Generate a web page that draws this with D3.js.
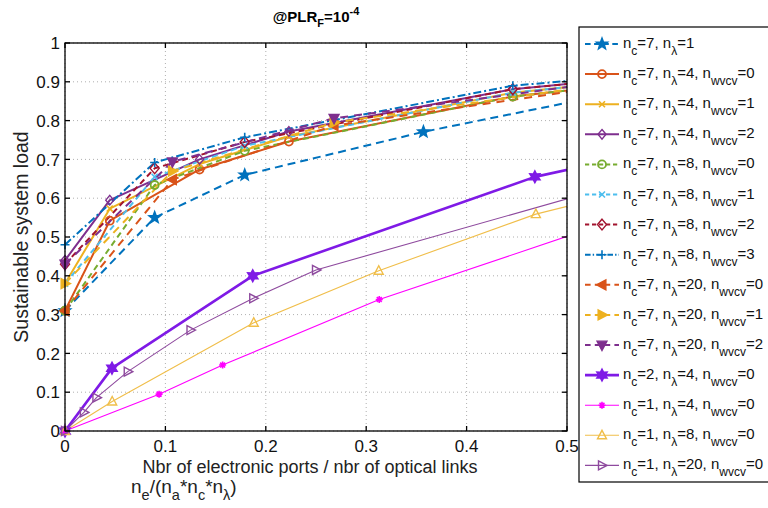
<!DOCTYPE html>
<html><head><meta charset="utf-8">
<script src="https://cdn.jsdelivr.net/npm/d3@7"></script>
<style>body{margin:0;background:#fff}svg{display:block;font-family:"Liberation Sans",Arial,Helvetica,sans-serif}</style>
</head><body><svg id="c" width="768" height="508"></svg>
<script>
// ---- data ----
const titleText = "@PLR_F=10^-4";
const yLabel = "Sustainable system load";
const xLabel1 = "Nbr of electronic ports / nbr of optical links";
const xLabel2 = "n_e/(n_a*n_c*n_λ)";
const xTicks = [0, 0.1, 0.2, 0.3, 0.4, 0.5];
const yTicks = [0, 0.1, 0.2, 0.3, 0.4, 0.5, 0.6, 0.7, 0.8, 0.9, 1];

const legendLabels = [
  "n_c=7, n_λ=1",
  "n_c=7, n_λ=4, n_wvcv=0",
  "n_c=7, n_λ=4, n_wvcv=1",
  "n_c=7, n_λ=4, n_wvcv=2",
  "n_c=7, n_λ=8, n_wvcv=0",
  "n_c=7, n_λ=8, n_wvcv=1",
  "n_c=7, n_λ=8, n_wvcv=2",
  "n_c=7, n_λ=8, n_wvcv=3",
  "n_c=7, n_λ=20, n_wvcv=0",
  "n_c=7, n_λ=20, n_wvcv=1",
  "n_c=7, n_λ=20, n_wvcv=2",
  "n_c=2, n_λ=4, n_wvcv=0",
  "n_c=1, n_λ=4, n_wvcv=0",
  "n_c=1, n_λ=8, n_wvcv=0",
  "n_c=1, n_λ=20, n_wvcv=0"
];

const x_l1 = [0, 0.0893, 0.179, 0.357, 0.714];
const y_l1 = [0.31, 0.55, 0.66, 0.771, 0.958];

const x_l4 = [0, 0.0446, 0.134, 0.223, 0.446, 0.892];
const y_l4w0 = [0.31, 0.542, 0.674, 0.746, 0.862, 0.99];
const y_l4w1 = [0.38, 0.573, 0.688, 0.759, 0.872, 0.99];
const y_l4w2 = [0.44, 0.595, 0.700, 0.772, 0.881, 0.99];

const x_l8 = [0, 0.0893, 0.179, 0.446, 0.893];
const y_l8w0 = [0.31, 0.634, 0.722, 0.862, 0.99];
const y_l8w1 = [0.38, 0.655, 0.735, 0.872, 0.99];
const y_l8w2 = [0.43, 0.677, 0.745, 0.881, 0.99];
const y_l8w3 = [0.48, 0.692, 0.757, 0.890, 0.99];

const x_l20 = [0, 0.107, 0.268, 0.536];
const y_l20w0 = [0.31, 0.648, 0.787, 0.887];
const y_l20w1 = [0.38, 0.670, 0.795, 0.893];
const y_l20w2 = [0.43, 0.694, 0.806, 0.899];

const x_c2 = [0, 0.0468, 0.187, 0.468, 0.936];
const y_c2 = [0, 0.162, 0.40, 0.655, 0.917];

const x_c1l4 = [0, 0.0937, 0.157, 0.313, 0.626];
const y_c1l4 = [0, 0.095, 0.17, 0.339, 0.611];

const x_c1l8 = [0, 0.047, 0.188, 0.3125, 0.469, 0.625];
const y_c1l8 = [0, 0.076, 0.279, 0.413, 0.559, 0.66];

const x_c1l20 = [0, 0.0188, 0.0313, 0.0625, 0.125, 0.1875, 0.25, 0.625];
const y_c1l20 = [0, 0.048, 0.086, 0.153, 0.26, 0.342, 0.415, 0.69];

// series styling (index aligned with legend)
const seriesData = [
  [x_l1, y_l1], [x_l4, y_l4w0], [x_l4, y_l4w1], [x_l4, y_l4w2],
  [x_l8, y_l8w0], [x_l8, y_l8w1], [x_l8, y_l8w2], [x_l8, y_l8w3],
  [x_l20, y_l20w0], [x_l20, y_l20w1], [x_l20, y_l20w2],
  [x_c2, y_c2], [x_c1l4, y_c1l4], [x_c1l8, y_c1l8], [x_c1l20, y_c1l20]
];
const colors = ["#0072BD","#D95319","#EDB120","#7E2F8E","#77AC30","#4DBEEE","#A2142F","#0072BD",
                "#D95319","#EDB120","#7E2F8E","#7F1AE6","#FF00FF","#F0BE4A","#8E4A9E"];
const dashes = ["8,5",null,null,null,"6,4","6,4","6,4","8,3,2,3","8,6","8,6","8,6",null,null,null,null];
const widths = [2,2,2,2,2,2,2,2,2,2,2,2.6,1.1,1.1,1.1];
const markers = ["p","o","x","d","o","x","d","+","<",">","v","h","*","^",">"];
const filled = [true,false,false,false,false,false,false,false,true,true,true,true,false,false,false];
const msize = [6,4,3,4,4,3,4.5,4.5,5.5,5.5,5.5,6,3.5,5,5];

// ---- layout ----
const W = 768, H = 508;
const L = 65, R = 567, T = 43, B = 431;
const svg = d3.select("#c");
const x = d3.scaleLinear().domain([0, 0.5]).range([L, R]);
const y = d3.scaleLinear().domain([0, 1]).range([B, T]);

function rich(sel, str, size, subSize, subShift) {
  const segs = []; let i = 0, cur = "";
  const stop = "=/*), ";
  while (i < str.length) {
    const c = str[i];
    if (c === "_" || c === "^") {
      if (cur) segs.push({t: cur, m: "n"}); cur = "";
      const m = c === "_" ? "sub" : "sup"; i++;
      let s = "";
      while (i < str.length && !stop.includes(str[i])) { s += str[i]; i++; }
      segs.push({t: s, m}); continue;
    }
    cur += c; i++;
  }
  if (cur) segs.push({t: cur, m: "n"});
  let shift = 0;
  segs.forEach(s => {
    const target = s.m === "sub" ? subShift : s.m === "sup" ? -size * 0.45 : 0;
    sel.append("tspan").attr("dy", target - shift)
      .attr("font-size", s.m === "n" ? size : subSize).text(s.t);
    shift = target;
  });
}

function markerPath(type, r) {
  const p = d3.path();
  const poly = pts => { pts.forEach((q, k) => k ? p.lineTo(q[0], q[1]) : p.moveTo(q[0], q[1])); p.closePath(); };
  switch (type) {
    case "o": return null;
    case "x": p.moveTo(-r,-r); p.lineTo(r,r); p.moveTo(-r,r); p.lineTo(r,-r); break;
    case "+": p.moveTo(-r,0); p.lineTo(r,0); p.moveTo(0,-r); p.lineTo(0,r); break;
    case "*": p.moveTo(-r,0); p.lineTo(r,0); p.moveTo(0,-r); p.lineTo(0,r);
      const a = r*0.7; p.moveTo(-a,-a); p.lineTo(a,a); p.moveTo(-a,a); p.lineTo(a,-a); break;
    case "d": poly([[0,-r*1.2],[r,0],[0,r*1.2],[-r,0]]); break;
    case "^": poly([[0,-r],[r*0.9,r*0.7],[-r*0.9,r*0.7]]); break;
    case "v": poly([[0,r],[r*0.9,-r*0.7],[-r*0.9,-r*0.7]]); break;
    case "<": poly([[-r,0],[r*0.7,-r*0.9],[r*0.7,r*0.9]]); break;
    case ">": poly([[r,0],[-r*0.7,-r*0.9],[-r*0.7,r*0.9]]); break;
    case "p": case "h": {
      const n = type === "p" ? 5 : 6, ri = type === "p" ? r*0.42 : r*0.55, pts = [];
      for (let k = 0; k < 2*n; k++) {
        const ang = -Math.PI/2 + k*Math.PI/n, rr = k % 2 ? ri : r;
        pts.push([rr*Math.cos(ang), rr*Math.sin(ang)]);
      }
      poly(pts); break;
    }
  }
  return p.toString();
}

function drawMarker(g, type, r, color, fill, cx, cy) {
  if (type === "o") {
    g.append("circle").attr("cx", cx).attr("cy", cy).attr("r", r)
      .attr("fill", "none").attr("stroke", color).attr("stroke-width", 1.8);
  } else {
    g.append("path").attr("d", markerPath(type, r)).attr("transform", `translate(${cx},${cy})`)
      .attr("fill", fill ? color : "none").attr("stroke", color)
      .attr("stroke-width", type === "x" || type === "+" || type === "*" ? 1.6 : 1.4)
      .attr("stroke-linejoin", "miter");
  }
}

// grid
const grid = svg.append("g").attr("stroke", "#9a9a9a").attr("stroke-width", 0.8).attr("stroke-dasharray", "1,3");
xTicks.forEach(t => grid.append("line").attr("x1", x(t)).attr("x2", x(t)).attr("y1", T).attr("y2", B));
yTicks.forEach(t => grid.append("line").attr("x1", L).attr("x2", R).attr("y1", y(t)).attr("y2", y(t)));

// clip
svg.append("clipPath").attr("id", "clip").append("rect").attr("x", L - 20).attr("y", T).attr("width", R - L + 20).attr("height", B - T + 20);

// lines
const lineGen = d3.line().x(d => x(d[0])).y(d => y(d[1]));
const lg = svg.append("g").attr("clip-path", "url(#clip)");
seriesData.forEach((sd, i) => {
  const pts = sd[0].map((v, k) => [v, sd[1][k]]);
  lg.append("path").attr("d", lineGen(pts)).attr("fill", "none")
    .attr("stroke", colors[i]).attr("stroke-width", widths[i])
    .attr("stroke-dasharray", dashes[i]).attr("stroke-linejoin", "round");
});
// markers (only those within the axis limits)
const mg = svg.append("g");
seriesData.forEach((sd, i) => {
  sd[0].forEach((v, k) => {
    if (v <= 0.5) drawMarker(mg, markers[i], msize[i], colors[i], filled[i], x(v), y(sd[1][k]));
  });
});

// axes box + ticks
const ax = svg.append("g").attr("stroke", "#000").attr("stroke-width", 1.3);
ax.append("rect").attr("x", L).attr("y", T).attr("width", R - L).attr("height", B - T).attr("fill", "none");
xTicks.forEach(t => {
  ax.append("line").attr("x1", x(t)).attr("x2", x(t)).attr("y1", B).attr("y2", B - 5);
  ax.append("line").attr("x1", x(t)).attr("x2", x(t)).attr("y1", T).attr("y2", T + 5);
});
yTicks.forEach(t => {
  ax.append("line").attr("x1", L).attr("x2", L + 5).attr("y1", y(t)).attr("y2", y(t));
  ax.append("line").attr("x1", R).attr("x2", R - 5).attr("y1", y(t)).attr("y2", y(t));
});
const fmt = d3.format("");
svg.append("g").selectAll("text").data(xTicks).join("text")
  .attr("x", d => x(d)).attr("y", B + 21).attr("text-anchor", "middle").attr("font-size", 17).attr("fill", "#111")
  .text(d => fmt(d));
svg.append("g").selectAll("text").data(yTicks).join("text")
  .attr("x", L - 5).attr("y", d => y(d)).attr("dy", "0.36em").attr("text-anchor", "end").attr("font-size", 17).attr("fill", "#111")
  .text(d => fmt(d));

// labels
svg.append("text").attr("transform", `translate(28,${(T + B) / 2}) rotate(-90)`).attr("text-anchor", "middle")
  .attr("font-size", 19.5).attr("fill", "#222").text(yLabel);
svg.append("text").attr("x", (126 + 494) / 2).attr("y", 473).attr("text-anchor", "middle").attr("font-size", 18).attr("fill", "#222").text(xLabel1);
rich(svg.append("text").attr("x", 131).attr("y", 493).attr("fill", "#222"), xLabel2, 19, 14.5, 7);
rich(svg.append("text").attr("x", (L + R) / 2).attr("y", 22).attr("text-anchor", "middle").attr("font-weight", "bold").attr("fill", "#000"), titleText, 15, 11, 5);

// legend
const leg = svg.append("g");
leg.append("rect").attr("x", 579).attr("y", 27).attr("width", 200).attr("height", 455)
  .attr("fill", "#fff").attr("stroke", "#000").attr("stroke-width", 1.2);
legendLabels.forEach((lab, i) => {
  const cy = 44 + i * 30.1;
  leg.append("line").attr("x1", 585).attr("x2", 619).attr("y1", cy).attr("y2", cy)
    .attr("stroke", colors[i]).attr("stroke-width", widths[i]).attr("stroke-dasharray", dashes[i] ? dashes[i].split(",").map(v => +v * 0.7).join(",") : null);
  drawMarker(leg, markers[i], msize[i], colors[i], filled[i], 602, cy);
  rich(leg.append("text").attr("x", 623).attr("y", cy + 4).attr("fill", "#111"), lab, 15, 12, 7);
});
</script></body></html>
